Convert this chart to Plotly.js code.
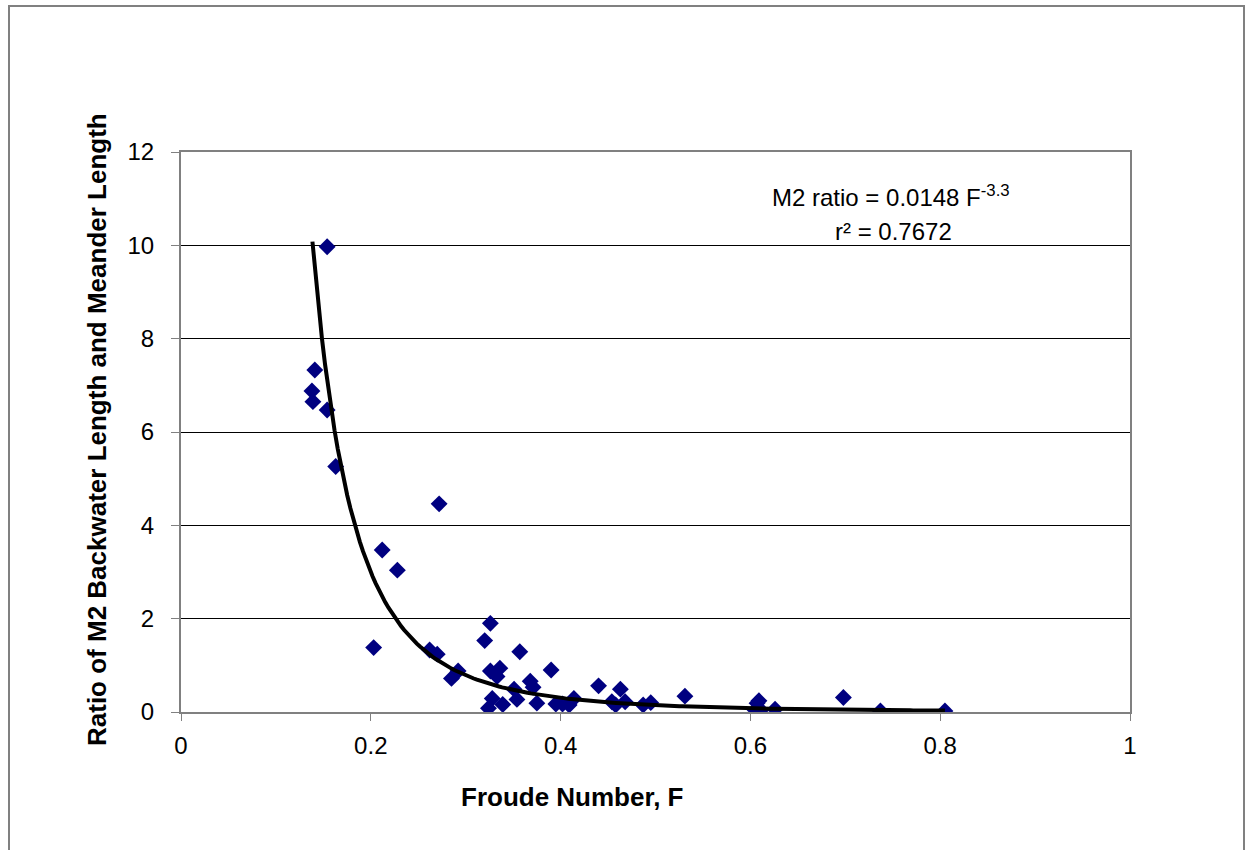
<!DOCTYPE html>
<html>
<head>
<meta charset="utf-8">
<script src="https://cdn.plot.ly/plotly-3.0.1.min.js"></script>
<style>
html,body{margin:0;padding:0;background:#fff;overflow:hidden;}
#frame{position:absolute;left:8px;top:5px;width:1233px;height:900px;border:2px solid #808080;pointer-events:none;z-index:5;}
#chart{position:absolute;left:0;top:0;width:1246px;height:850px;}
</style>
</head>
<body>
<div id="chart"></div>
<div id="frame"></div>
<script>
// Observed data: Froude number F vs ratio of M2 backwater length to meander length
const froude = [0.154,0.141,0.138,0.139,0.154,0.163,0.272,0.212,0.228,0.203,0.262,0.270,
  0.292,0.285,0.326,0.320,0.357,0.326,0.336,0.333,0.390,0.368,0.371,0.351,0.354,0.328,
  0.324,0.339,0.375,0.395,0.402,0.409,0.414,0.440,0.463,0.454,0.458,0.468,0.487,0.495,
  0.531,0.607,0.609,0.605,0.611,0.626,0.698,0.737,0.805];
const ratio = [9.97,7.33,6.88,6.65,6.47,5.26,4.46,3.47,3.04,1.38,1.33,1.24,
  0.88,0.72,1.90,1.53,1.29,0.88,0.94,0.76,0.90,0.66,0.53,0.49,0.27,0.29,
  0.08,0.16,0.19,0.17,0.17,0.15,0.29,0.56,0.49,0.22,0.15,0.22,0.15,0.20,
  0.34,0.19,0.24,0.04,0.04,0.06,0.31,0.02,0.02];

// Power-law trendline shown on the chart: ratio = a * F^b
const fitCoef = [0.0148];
const fitExp = [-3.3];
const fitRange = [0.1385, 0.805];
const fitX = [], fitY = [];
for (let i = 0; i <= 200; i++) {
  const x = fitRange[0] + (fitRange[1] - fitRange[0]) * i / 200;
  fitX.push(x);
  fitY.push(fitCoef[0] * Math.pow(x, fitExp[0]));
}

const xTicks = [0, 0.2, 0.4, 0.6, 0.8, 1];
const xTickText = ['0', '0.2', '0.4', '0.6', '0.8', '1'];
const yTicks = [0, 2, 4, 6, 8, 10, 12];
const yTickText = ['0', '2', '4', '6', '8', '10', '12'];

const font = 'Liberation Sans, Arial, sans-serif';

const traces = [
  {x: froude, y: ratio, type: 'scatter', mode: 'markers',
   marker: {symbol: 'diamond', size: 13, color: '#000080'}, showlegend: false, hoverinfo: 'x+y'},
  {x: fitX, y: fitY, type: 'scatter', mode: 'lines',
   line: {color: '#000000', width: 4}, showlegend: false, hoverinfo: 'skip'}
];

const layout = {
  width: 1246, height: 850,
  margin: {l: 181, r: 116, t: 152, b: 138},
  paper_bgcolor: '#ffffff', plot_bgcolor: '#ffffff',
  font: {family: font, size: 24, color: '#000'},
  xaxis: {
    range: [0, 1], tickvals: xTicks, ticktext: xTickText,
    showgrid: false, zeroline: false,
    showline: true, linecolor: '#808080', linewidth: 2, mirror: true,
    ticks: 'outside', ticklen: 7, tickcolor: '#808080', tickwidth: 1,
    ticklabelstandoff: 4,
    tickfont: {family: font, size: 24, color: '#000'}
  },
  yaxis: {
    range: [0, 12], tickvals: yTicks, ticktext: yTickText,
    showgrid: true, gridcolor: '#000000', gridwidth: 1, zeroline: false,
    showline: true, linecolor: '#808080', linewidth: 2, mirror: true,
    ticks: 'outside', ticklen: 8, tickcolor: '#808080', tickwidth: 1,
    ticklabelstandoff: 12,
    tickfont: {family: font, size: 24, color: '#000'}
  },
  annotations: [
    {text: '<b>Froude Number, F</b>', xref: 'paper', yref: 'paper',
     x: (572 - 181) / 949, y: -(797 - 712) / 560, xanchor: 'center', yanchor: 'middle',
     showarrow: false, font: {family: font, size: 26, color: '#000'}},
    {text: '<b>Ratio of M2 Backwater Length and Meander Length</b>', xref: 'paper', yref: 'paper',
     x: -(181 - 97) / 949, y: (712 - 430) / 560, xanchor: 'center', yanchor: 'middle', textangle: -90,
     showarrow: false, font: {family: font, size: 26, color: '#000'}},
    {text: 'M2 ratio = 0.0148 F<sup>-3.3</sup>', xref: 'paper', yref: 'paper',
     x: (891 - 181) / 949, y: (712 - 196) / 560, xanchor: 'center', yanchor: 'middle',
     showarrow: false, font: {family: font, size: 24, color: '#000'}},
    {text: 'r² = 0.7672', xref: 'paper', yref: 'paper',
     x: (893 - 181) / 949, y: (712 - 231) / 560, xanchor: 'center', yanchor: 'middle',
     showarrow: false, font: {family: font, size: 24, color: '#000'}}
  ]
};

Plotly.newPlot('chart', traces, layout, {displayModeBar: false, staticPlot: true});
</script>
</body>
</html>
